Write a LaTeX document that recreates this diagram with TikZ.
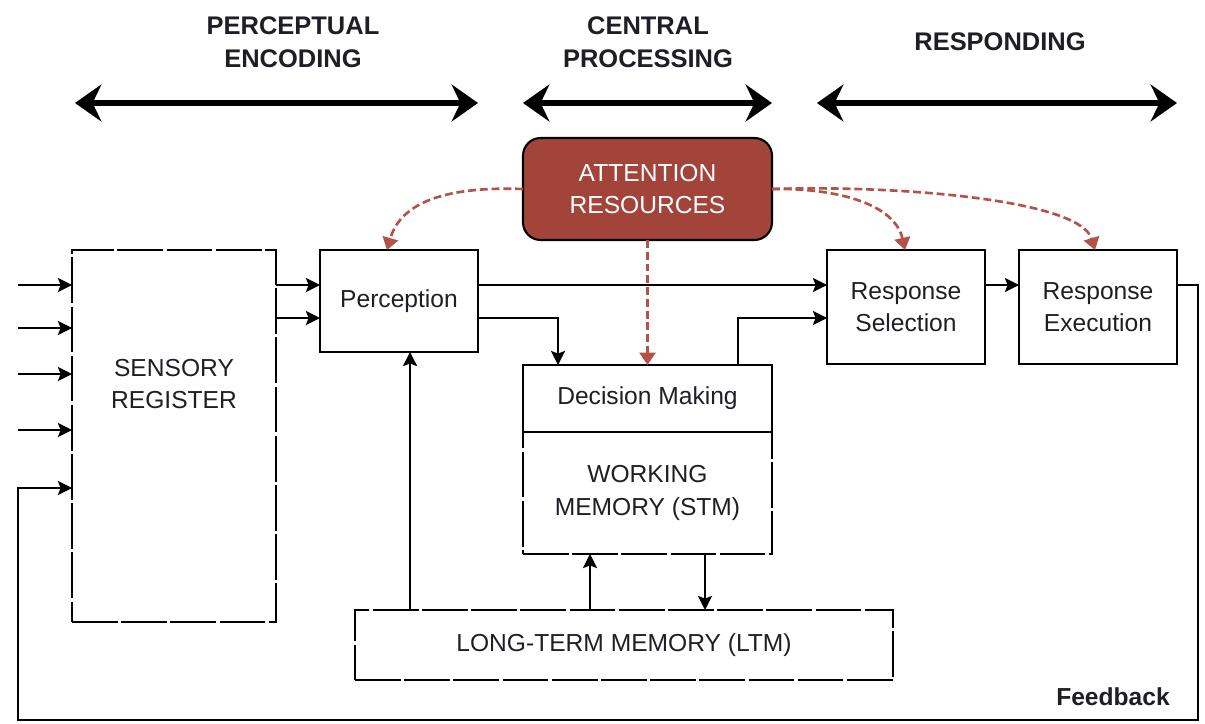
\documentclass[tikz,border=0pt]{standalone}
\usepackage{fontspec}
\setmainfont{Liberation Sans}
\usetikzlibrary{arrows.meta,calc}

\definecolor{inkdark}{RGB}{30,30,38}
\definecolor{attnfill}{RGB}{163,68,58}
\definecolor{attnline}{RGB}{178,82,72}

\tikzset{
  box/.style={draw=black, line width=1.2pt, inner sep=0pt, outer sep=0pt, align=center,
    text=inkdark, font=\fontsize{14}{18.5}\selectfont},
  dbox/.style={box, dash pattern=on 26pt off 2pt},
  attnbox/.style={box, fill=attnfill, rounded corners=10pt, text=white},
  conn/.style={line width=1.3pt, -{Stealth[length=8pt,width=8pt,inset=1.5pt]}},
  attnconn/.style={attnline, line width=1.5pt, dash pattern=on 4.5pt off 2.2pt,
    -{Triangle[length=7pt,width=9pt]}},
  phase/.style={line width=3pt, {Stealth[length=15pt,width=21pt,inset=5pt]}-{Stealth[length=15pt,width=21pt,inset=5pt]}},
  heading/.style={align=center, text=inkdark, font=\fontsize{14.5}{18.5}\selectfont\bfseries},
}

\begin{document}
\begin{tikzpicture}[x=0.02cm, y=-0.02cm]
  \useasboundingbox (0,0) rectangle (1205,724);

  %--- stages along the top ---
  \node[heading] (hperc) at (293,42) {PERCEPTUAL\\ENCODING};
  \node[heading] (hcent) at (648,42) {CENTRAL\\PROCESSING};
  \node[heading] (hresp) at (1000,42) {RESPONDING};
  \coordinate (p1) at (75,103);   \coordinate (p2) at (478,103);
  \coordinate (c1) at (523,103);  \coordinate (c2) at (772,103);
  \coordinate (s1) at (817,103);  \coordinate (s2) at (1177,103);
  \draw[phase] (p1) -- (p2);
  \draw[phase] (c1) -- (c2);
  \draw[phase] (s1) -- (s2);

  %--- boxes ---
  \node[dbox, minimum width=4.08cm, minimum height=7.44cm] (sens) at (174,436) {};
  \node[box, draw=none] (senstxt) at (174,384) {SENSORY\\REGISTER};
  \node[box, minimum width=3.16cm, minimum height=2.04cm] (perc) at (399,301) {Perception};
  \node[attnbox, minimum width=4.98cm, minimum height=2.04cm] (attn) at (647.5,189) {ATTENTION\\RESOURCES};
  \node[dbox, minimum width=4.98cm, minimum height=2.44cm] (wm) at (647.5,493) {WORKING\\MEMORY (STM)};
  \node[box, minimum width=4.98cm, minimum height=1.34cm] (dec) at (647.5,398.5) {Decision Making};
  \node[dbox, minimum width=10.76cm, minimum height=1.4cm] (ltm) at (624,645) {LONG-TERM MEMORY (LTM)};
  \node[box, minimum width=3.16cm, minimum height=2.28cm] (rsel) at (906,307) {Response\\Selection};
  \node[box, minimum width=3.16cm, minimum height=2.28cm] (rexe) at (1098,307) {Response\\Execution};
  \node[heading, font=\fontsize{14}{17}\selectfont\bfseries] (fbtxt) at (1113,697) {Feedback};

  %--- inputs to the sensory register ---
  \foreach \y [count=\i] in {285,328,374,430}{
    \coordinate (in\i) at (18,\y);
    \draw[conn] (in\i) -- (in\i -| sens.west);
  }

  %--- main flow ---
  \coordinate (r1) at (0,285);
  \coordinate (r2) at (0,318);
  \draw[conn] (sens.east |- r1) -- (perc.west |- r1);
  \draw[conn] (sens.east |- r2) -- (perc.west |- r2);
  \draw[conn] (perc.east |- r1) -- (rsel.west |- r1);
  \draw[conn] (perc.east |- r2) -| ($(dec.north west)+(35,0)$);
  \draw[conn] ($(dec.north east)+(-34,0)$) |- (rsel.west |- r2);
  \draw[conn] (rsel.east |- r1) -- (rexe.west |- r1);

  %--- memory links ---
  \coordinate (ltmup) at ($(ltm.north west)+(55,0)$);
  \draw[conn] (ltmup) -- (ltmup |- perc.south);
  \draw[conn] (ltm.north -| 590,0) -- (wm.south -| 590,0);
  \draw[conn] (wm.south -| 705,0) -- (ltm.north -| 705,0);

  %--- feedback loop ---
  \coordinate (fbR) at (1198,720);
  \coordinate (fbL) at (18,720);
  \coordinate (fbIn) at (18,488);
  \draw[conn] (rexe.east |- r1) -| (fbR) -- (fbL) -- (fbIn) -- (sens.west |- fbIn);

  %--- attention resources ---
  \draw[attnconn] (attn.west) .. controls (440,186) and (400,205) .. ($(perc.north)+(-12,0)$);
  \draw[attnconn] (attn.south) -- (dec.north);
  \draw[attnconn] (attn.east) .. controls (840,188) and (895,205) .. ($(rsel.north)+(-1,0)$);
  \draw[attnconn] (attn.east) .. controls (900,185) and (1080,200) .. ($(rexe.north)+(-3,0)$);
\end{tikzpicture}
\end{document}
